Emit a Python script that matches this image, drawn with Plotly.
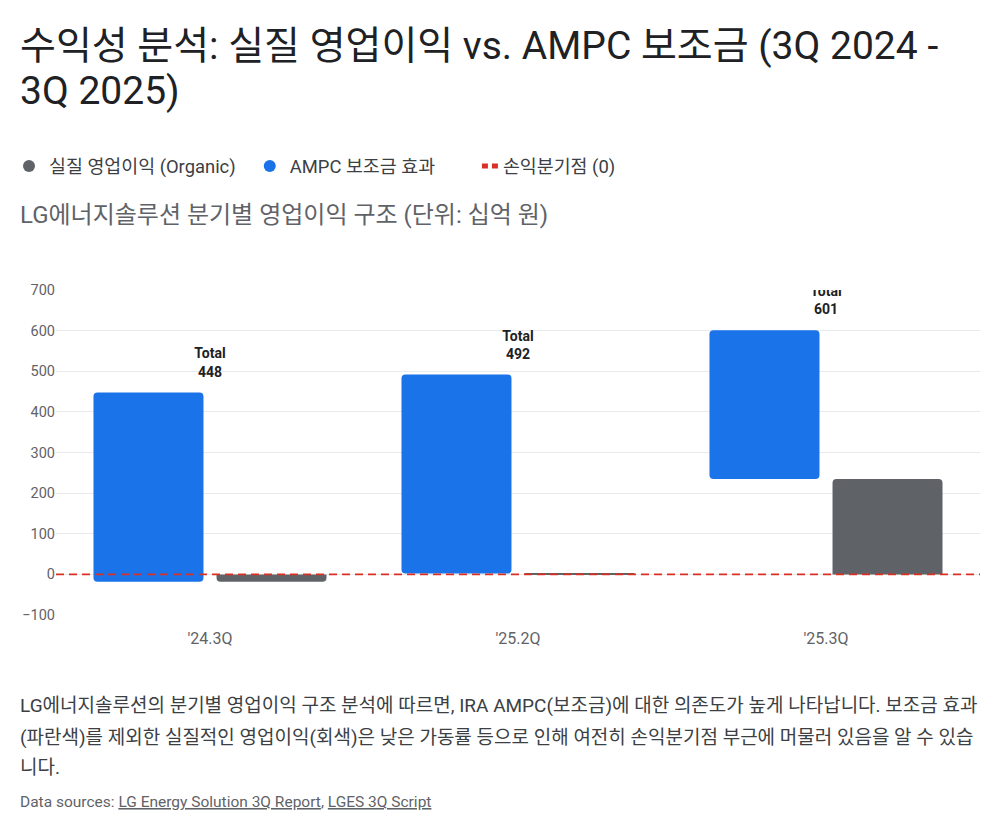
import plotly.graph_objects as go

# ---- data ----
quarters = ["'24.3Q", "'25.2Q", "'25.3Q"]
organic = [-18, 2, 235]          # 실질 영업이익 (십억 원)
ampc = [466, 490, 366]           # AMPC 보조금 효과
totals = [o + a for o, a in zip(organic, ampc)]
y_ticks = [-100, 0, 100, 200, 300, 400, 500, 600, 700]

legend_names = ["실질 영업이익 (Organic)", "AMPC 보조금 효과", "손익분기점 (0)"]
title_lines = ["수익성 분석: 실질 영업이익 vs. AMPC 보조금 (3Q 2024 -", "3Q 2025)"]
subtitle = "LG에너지솔루션 분기별 영업이익 구조 (단위: 십억 원)"
para_lines = [
    "LG에너지솔루션의 분기별 영업이익 구조 분석에 따르면, IRA AMPC(보조금)에 대한 의존도가 높게 나타납니다. 보조금 효과",
    "(파란색)를 제외한 실질적인 영업이익(회색)은 낮은 가동률 등으로 인해 여전히 손익분기점 부근에 머물러 있음을 알 수 있습",
    "니다.",
]
sources = ["LG Energy Solution 3Q Report", "LGES 3Q Script"]

FONT = "Roboto, 'Noto Sans CJK KR', 'Noto Sans', sans-serif"
BLUE = "#1a73e8"
GRAY = "#5f6368"
RED = "#d93025"
DARK = "#202124"
TEXT = "#3c4043"
NB = "\u00a0"

fig = go.Figure()

# AMPC bars floating on top of organic profit
fig.add_trace(go.Bar(
    x=quarters, y=ampc, base=organic, name=legend_names[1],
    marker=dict(color=BLUE, line=dict(width=0)), showlegend=False,
    offsetgroup="a", hoverinfo="skip",
))
# organic bars
fig.add_trace(go.Bar(
    x=quarters, y=organic, name=legend_names[0],
    marker=dict(color=GRAY, line=dict(width=0)), showlegend=False,
    offsetgroup="b", hoverinfo="skip",
))

# legend entries
fig.add_trace(go.Scatter(x=[None], y=[None], mode="markers", name=legend_names[0] + NB * 2,
                         marker=dict(color=GRAY, size=15, symbol="circle")))
fig.add_trace(go.Scatter(x=[None], y=[None], mode="markers", name=legend_names[1] + NB * 5,
                         marker=dict(color=BLUE, size=15, symbol="circle")))
fig.add_trace(go.Scatter(x=[None], y=[None], mode="lines", name=legend_names[2],
                         line=dict(color=RED, width=2, dash="0px,14px,6px,4px,6px,100px")))

# total labels
fig.add_trace(go.Scatter(
    x=quarters, y=totals, mode="markers+text",
    text=[f"<b>Total<br>{t}</b>" for t in totals],
    textposition="top center",
    marker=dict(size=18, opacity=0),
    textfont=dict(family=FONT, size=14, color=DARK),
    cliponaxis=True, showlegend=False, hoverinfo="skip",
))

# break-even line
fig.add_shape(type="line", xref="paper", x0=0, x1=1, yref="y", y0=0, y1=0,
              line=dict(color=RED, width=1.8, dash="8px,5px"), layer="above")

W, H = 1000, 833
L, R, T, B = 56, 20, 290, 218
pw, ph = W - L - R, H - T - B


def px_x(x):
    return (x - L) / pw


def px_y(y):
    return (H - B - y) / ph


fig.update_layout(
    width=W, height=H,
    margin=dict(l=L, r=R, t=T, b=B, autoexpand=False),
    paper_bgcolor="white", plot_bgcolor="white",
    font=dict(family=FONT, color=TEXT),
    barmode="group", bargap=0.201, bargroupgap=0.106,
    barcornerradius=4,
    legend=dict(
        orientation="h", xref="container", yref="container",
        x=9 / W, xanchor="left", y=1 - 166 / H, yanchor="middle",
        font=dict(family=FONT, size=18.4, color=TEXT),
        bgcolor="rgba(0,0,0,0)", itemsizing="constant",
    ),
    xaxis=dict(
        showgrid=False, zeroline=False, showline=False,
        tickfont=dict(family=FONT, size=16, color=GRAY), ticks="",
        ticklabelstandoff=12,
    ),
    yaxis=dict(
        range=[-100, 700], tickvals=y_ticks, showgrid=True, gridcolor="#e8eaed",
        gridwidth=1, zeroline=False, showline=False, ticks="",
        tickfont=dict(family=FONT, size=14.5, color=GRAY),
    ),
    showlegend=True,
)

XL = px_x(18)
anns = [
    dict(text=title_lines[0], y=px_y(46), font=dict(size=39, color=DARK)),
    dict(text=title_lines[1], y=px_y(91), font=dict(size=39, color=DARK)),
    dict(text=subtitle, y=px_y(215), font=dict(size=24, color=GRAY)),
    dict(text=para_lines[0], y=px_y(705), font=dict(size=19, color=TEXT)),
    dict(text=para_lines[1], y=px_y(737), font=dict(size=19, color=TEXT)),
    dict(text=para_lines[2], y=px_y(767), font=dict(size=19, color=TEXT)),
    dict(text="Data sources: " + ", ".join(
        f"<span style='text-decoration:underline'>{s}</span>" for s in sources),
         y=px_y(802), font=dict(size=15.5, color=GRAY)),
]
for a in anns:
    fig.add_annotation(xref="paper", yref="paper", x=XL, y=a["y"],
                       xanchor="left", yanchor="middle",
                       showarrow=False, align="left", text=a["text"],
                       font=dict(family=FONT, **a["font"]))

fig.write_html("out.html")
